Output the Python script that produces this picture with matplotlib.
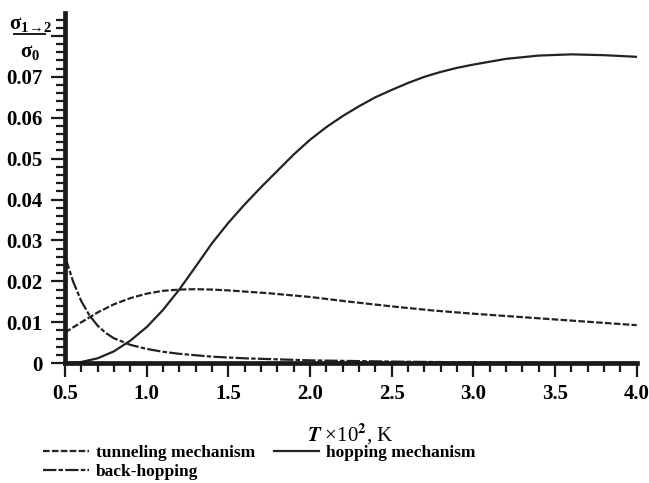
'''
Conductivity ratio vs temperature for the three transport mechanisms
'''

import numpy as np
import matplotlib
matplotlib.use("Agg")
import matplotlib.pyplot as plt
from matplotlib.lines import Line2D
from matplotlib.ticker import MultipleLocator

plt.rcParams["font.family"] = ["Liberation Serif", "DejaVu Serif"]
plt.rcParams["font.weight"] = "bold"
plt.rcParams["mathtext.fontset"] = "stix"

# (T in units of 10^2 K)
hop_T = [0.5, 0.6, 0.7, 0.8, 0.9, 1.0, 1.1, 1.2, 1.3, 1.4, 1.5, 1.6, 1.7,
         1.8, 1.9, 2.0, 2.1, 2.2, 2.3, 2.4, 2.5, 2.6, 2.7, 2.8, 2.9, 3.0,
         3.2, 3.4, 3.6, 3.8, 4.0]
hop_s = [0.0, 0.0003, 0.0012, 0.0029, 0.0055, 0.0088, 0.0130, 0.0180,
         0.0236, 0.0293, 0.0343, 0.0388, 0.0430, 0.0470, 0.0510, 0.0546,
         0.0577, 0.0604, 0.0628, 0.0650, 0.0668, 0.0685, 0.0700, 0.0712,
         0.0722, 0.0730, 0.0744, 0.0752, 0.0755, 0.0753, 0.0749]

tun_T = [0.5, 0.6, 0.7, 0.8, 0.9, 1.0, 1.1, 1.2, 1.3, 1.4, 1.5, 1.75,
         2.0, 2.25, 2.5, 2.75, 3.0, 3.25, 3.5, 3.75, 4.0]
tun_s = [0.0075, 0.0100, 0.0124, 0.0144, 0.0159, 0.0170, 0.0177, 0.0180,
         0.0181, 0.0180, 0.0178, 0.0171, 0.0162, 0.0150, 0.0139, 0.0129,
         0.0121, 0.0114, 0.0107, 0.0100, 0.0093]

back_T = [0.5, 0.55, 0.6, 0.65, 0.7, 0.75, 0.8, 0.9, 1.0, 1.1, 1.2, 1.4,
          1.6, 2.0, 2.5, 3.0, 3.5, 4.0]
back_s = [0.0262, 0.0200, 0.0152, 0.0117, 0.0092, 0.0074, 0.0061, 0.0045,
          0.0035, 0.0028, 0.0023, 0.0016, 0.0012, 0.0007, 0.0004, 0.0002,
          0.0001, 0.0001]

x_ticks = [0.5, 1.0, 1.5, 2.0, 2.5, 3.0, 3.5, 4.0]
y_ticks = [0, 0.01, 0.02, 0.03, 0.04, 0.05, 0.06, 0.07]
y_labels = ["0", "0.01", "0.02", "0.03", "0.04", "0.05", "0.06", "0.07"]

fig = plt.figure(figsize=(6.49, 4.83), dpi=100)
ax = fig.add_axes([0.100, 0.248, 0.881, 0.725])

lw = 1.6
ax.plot(tun_T, tun_s, color="#222222", lw=lw, ls=(0, (3, 1.0)),
        label="tunneling mechanism")
ax.plot(back_T, back_s, color="#222222", lw=lw, ls=(0, (6, 1.0, 2, 1.0)),
        label="back-hopping")
ax.plot(hop_T, hop_s, color="#222222", lw=lw, ls="-",
        label="hopping mechanism")

ax.set_xlim(0.5, 4.0)
ax.set_ylim(0, 0.0856)
ax.set_xticks(x_ticks)
ax.set_xticklabels([f"{v:.1f}" for v in x_ticks])
ax.set_yticks(y_ticks + [0.08])
ax.set_yticklabels(y_labels + [""])
ax.xaxis.set_minor_locator(MultipleLocator(0.1))
ax.yaxis.set_minor_locator(MultipleLocator(0.002))

for s in ["top", "right"]:
    ax.spines[s].set_visible(False)
for s in ["left", "bottom"]:
    ax.spines[s].set_linewidth(3.4)
    ax.spines[s].set_color("#1a1a1a")

ax.tick_params(which="major", direction="out", length=10, width=1.6,
               labelsize=15, color="#1a1a1a")
ax.tick_params(axis="y", which="major", pad=6)
ax.tick_params(axis="x", which="major", pad=5)
ax.tick_params(which="minor", direction="out", length=6.5, width=1.6,
               color="#1a1a1a")

ax.set_xlabel(r"$\mathit{T}$ ×10$^\mathbf{2}$, K", fontsize=15, labelpad=13)

# fraction label on top of the y axis
fig.text(0.047, 0.950, r"$\mathregular{\sigma_{1\!\rightarrow\!2}}$",
         fontsize=15, ha="center", va="center")
fig.text(0.046, 0.893, r"$\mathregular{\sigma_0}$", fontsize=15,
         ha="center", va="center")
fig.add_artist(Line2D([0.021, 0.070], [0.929, 0.929], color="#1a1a1a",
                      lw=1.4, transform=fig.transFigure))

fig.legend(loc="upper left", bbox_to_anchor=(0.067, 0.078), ncol=2,
           frameon=False, prop={"size": 12.5, "weight": "bold"},
           handlelength=2.6, handletextpad=0.4, labelspacing=0.12,
           columnspacing=1.1, borderpad=0.0, borderaxespad=0.0)

fig.savefig("out.png", dpi=100)
